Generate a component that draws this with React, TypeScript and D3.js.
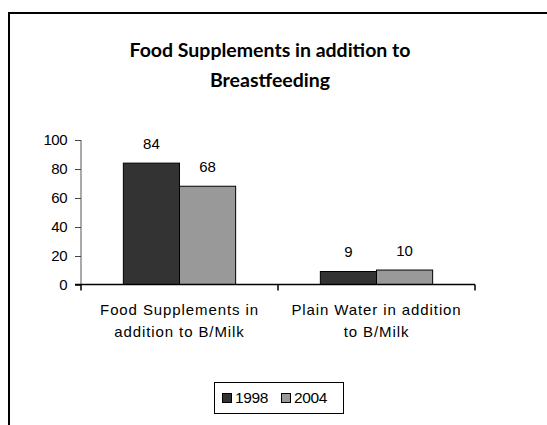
import * as d3 from "d3";
import React from "react";

const categories = [
	["Food Supplements in", "addition to B/Milk"],
	["Plain Water in addition", "to B/Milk"],
];
const seriesNames = ["1998", "2004"];
const values1998 = [84, 9];
const values2004 = [68, 10];
const yTicks = [0, 20, 40, 60, 80, 100];
const colors = ["#333333", "#999999"];

export default function App() {
	const svgRef = React.useRef<SVGSVGElement>(null);
	const width = 547;
	const height = 425;

	React.useEffect(() => {
		if (!svgRef.current) return;
		const svg = d3.select(svgRef.current);
		svg.selectAll("*").remove();

		const plot = { left: 81, right: 475, top: 140, bottom: 284.5 };
		const series = [values1998, values2004];

		// frame
		svg
			.append("path")
			.attr("d", `M9,${height} L9,13 L${width},13`)
			.attr("fill", "none")
			.attr("stroke", "#000")
			.attr("stroke-width", 2);

		// title
		const title = svg
			.append("text")
			.attr("text-anchor", "middle")
			.attr("font-family", "Lato, 'Open Sans', sans-serif")
			.attr("font-weight", "bold")
			.attr("font-size", 19.5)
			.attr("fill", "#000");
		title.append("tspan").attr("x", 270).attr("y", 57).text("Food Supplements in addition to");
		title.append("tspan").attr("x", 270).attr("y", 87).text("Breastfeeding");

		const x0 = d3
			.scaleBand<number>()
			.domain(d3.range(categories.length))
			.range([plot.left, plot.right]);
		const groupPad = 0.43;
		const x1 = d3
			.scaleBand<number>()
			.domain(d3.range(seriesNames.length))
			.range([x0.bandwidth() * (groupPad / 2), x0.bandwidth() * (1 - groupPad / 2)]);
		const y = d3.scaleLinear().domain([0, 100]).range([plot.bottom, plot.top]);

		const font = "'Liberation Sans', Arial, sans-serif";

		// y axis
		svg
			.append("line")
			.attr("x1", plot.left)
			.attr("x2", plot.left)
			.attr("y1", y(100))
			.attr("y2", y(0))
			.attr("stroke", "#555")
			.attr("stroke-width", 1);
		yTicks.forEach((t) => {
			svg
				.append("line")
				.attr("x1", plot.left - 6)
				.attr("x2", plot.left)
				.attr("y1", Math.round(y(t)) + 0.5)
				.attr("y2", Math.round(y(t)) + 0.5)
				.attr("stroke", "#444");
			svg
				.append("text")
				.attr("x", plot.left - 14)
				.attr("y", y(t))
				.attr("dy", "0.35em")
				.attr("text-anchor", "end")
				.attr("font-family", font)
				.attr("font-size", 15)
				.attr("letter-spacing", -0.5)
				.attr("fill", "#000")
				.text(t);
		});

		// bars
		series.forEach((vals, s) => {
			vals.forEach((v, c) => {
				const bx = x0(c)! + x1(s)!;
				svg
					.append("rect")
					.attr("x", bx)
					.attr("y", y(v))
					.attr("width", x1.bandwidth())
					.attr("height", y(0) - y(v))
					.attr("fill", colors[s])
					.attr("stroke", "#000")
					.attr("stroke-width", 1);
				svg
					.append("text")
					.attr("x", bx + x1.bandwidth() / 2)
					.attr("y", y(v) - 14)
					.attr("text-anchor", "middle")
					.attr("font-family", font)
					.attr("font-size", 15)
					.attr("fill", "#000")
					.text(v);
			});
		});

		// x axis
		svg
			.append("line")
			.attr("x1", plot.left - 6)
			.attr("x2", plot.right)
			.attr("y1", plot.bottom)
			.attr("y2", plot.bottom)
			.attr("stroke", "#000")
			.attr("stroke-width", 1.5);
		[plot.left, ...categories.map((_, i) => x0(i)! + x0.bandwidth())].forEach((tx) => {
			svg
				.append("line")
				.attr("x1", tx)
				.attr("x2", tx)
				.attr("y1", plot.bottom)
				.attr("y2", plot.bottom + 6)
				.attr("stroke", "#000")
				.attr("stroke-width", 1.5);
		});
		categories.forEach((lines, i) => {
			const t = svg
				.append("text")
				.attr("text-anchor", "middle")
				.attr("font-family", font)
				.attr("font-size", 15)
				.attr("letter-spacing", 0.9)
				.attr("fill", "#000");
			lines.forEach((ln, j) => {
				t.append("tspan")
					.attr("x", x0(i)! + x0.bandwidth() / 2)
					.attr("y", 315 + j * 22)
					.text(ln);
			});
		});

		// legend
		const lg = svg.append("g");
		lg.append("rect")
			.attr("x", 214.5)
			.attr("y", 382.5)
			.attr("width", 129)
			.attr("height", 31)
			.attr("fill", "#fff")
			.attr("stroke", "#000");
		const legendX = [222, 281];
		seriesNames.forEach((name, i) => {
			lg.append("rect")
				.attr("x", legendX[i] + 0.5)
				.attr("y", 393.5)
				.attr("width", 9)
				.attr("height", 9)
				.attr("fill", colors[i])
				.attr("stroke", "#000");
			lg.append("text")
				.attr("x", legendX[i] + 13)
				.attr("y", 398)
				.attr("dy", "0.35em")
				.attr("font-family", font)
				.attr("font-size", 15.5)
				.attr("letter-spacing", -0.4)
				.attr("fill", "#000")
				.text(name);
		});
	}, []);

	return (
		<svg
			ref={svgRef}
			width={width}
			height={height}
			style={{ position: "absolute", left: 0, top: 0, background: "#fff" }}
		/>
	);
}
